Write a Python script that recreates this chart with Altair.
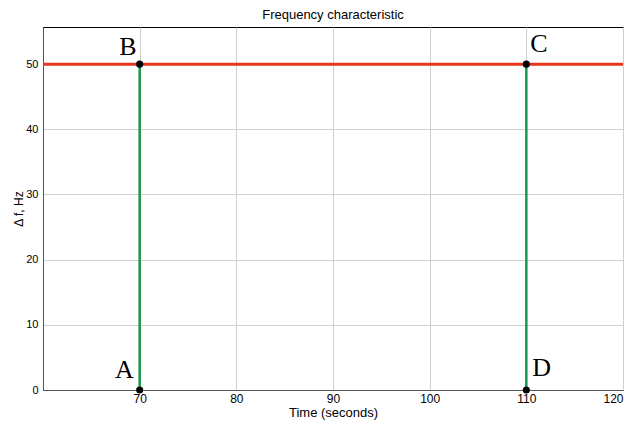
import altair as alt
import pandas as pd

# data
freq_level = 50
t_start, t_end = 60, 120
step_times = [70, 110]
point_labels = ["A", "B", "C", "D"]
point_x = [70, 70, 110, 110]
point_y = [0, 50, 50, 0]
label_align = ["right", "right", "left", "left"]
label_dx = [-6, -3, 4, 6]
label_dy = [-7, -4, -7, -9]

red_df = pd.DataFrame({"x": [t_start], "x2": [t_end], "y": [freq_level]})
green_df = pd.DataFrame({"x": step_times, "y": [0, 0], "y2": [freq_level, freq_level]})
pts_df = pd.DataFrame({"x": point_x, "y": point_y, "label": point_labels})

xs = alt.Scale(domain=[60, 120], nice=False, zero=False)
ys = alt.Scale(domain=[0, 55.7], nice=False)

xax = alt.Axis(values=[70, 80, 90, 100, 110, 120], title="Time (seconds)",
               grid=True, gridColor="#cfcfcf", tickSize=0, labelPadding=3,
               labelFontSize=12, titleFontSize=13, titleFontWeight="normal",
               titlePadding=2, domainColor="#555555", labelColor="black", titleColor="black",
               labelFont="Liberation Sans", titleFont="Liberation Sans")
yax = alt.Axis(values=[0, 10, 20, 30, 40, 50], title="Δ f, Hz",
               grid=True, gridColor="#cfcfcf", tickSize=0, labelPadding=5,
               labelFontSize=11, titleFontSize=12, titleFontWeight="normal",
               titlePadding=0, domainColor="#555555", labelColor="black", titleColor="black",
               labelFont="Liberation Sans", titleFont="Liberation Sans")

red = alt.Chart(red_df).mark_rule(color="#e8341c", strokeWidth=3).encode(
    x=alt.X("x:Q", scale=xs, axis=xax), x2="x2:Q",
    y=alt.Y("y:Q", scale=ys, axis=yax))

green = alt.Chart(green_df).mark_rule(color="#17994a", strokeWidth=2.5).encode(
    x=alt.X("x:Q", scale=xs), y=alt.Y("y:Q", scale=ys), y2="y2:Q")

pts = alt.Chart(pts_df).mark_circle(color="black", size=50, opacity=1).encode(
    x=alt.X("x:Q", scale=xs), y=alt.Y("y:Q", scale=ys))

texts = []
for i in range(len(point_labels)):
    sub = pts_df.iloc[[i]]
    texts.append(alt.Chart(sub).mark_text(
        font="Liberation Serif", fontSize=26, align=label_align[i], baseline="bottom",
        dx=label_dx[i], dy=label_dy[i], color="black").encode(
        x=alt.X("x:Q", scale=xs), y=alt.Y("y:Q", scale=ys), text="label:N"))

chart = alt.layer(green, red, pts, *texts).properties(
    width=580, height=363,
    title=alt.TitleParams("Frequency characteristic", fontSize=13, fontWeight="normal",
                          font="Liberation Sans", color="black", offset=5),
    autosize=alt.AutoSizeParams(type="none"),
    padding={"left": 35, "top": 19, "right": 7, "bottom": 31},
    background="white",
).configure_view(stroke="black", strokeWidth=1)

chart.save("out.html", embed_options={"renderer": "svg", "actions": False})
